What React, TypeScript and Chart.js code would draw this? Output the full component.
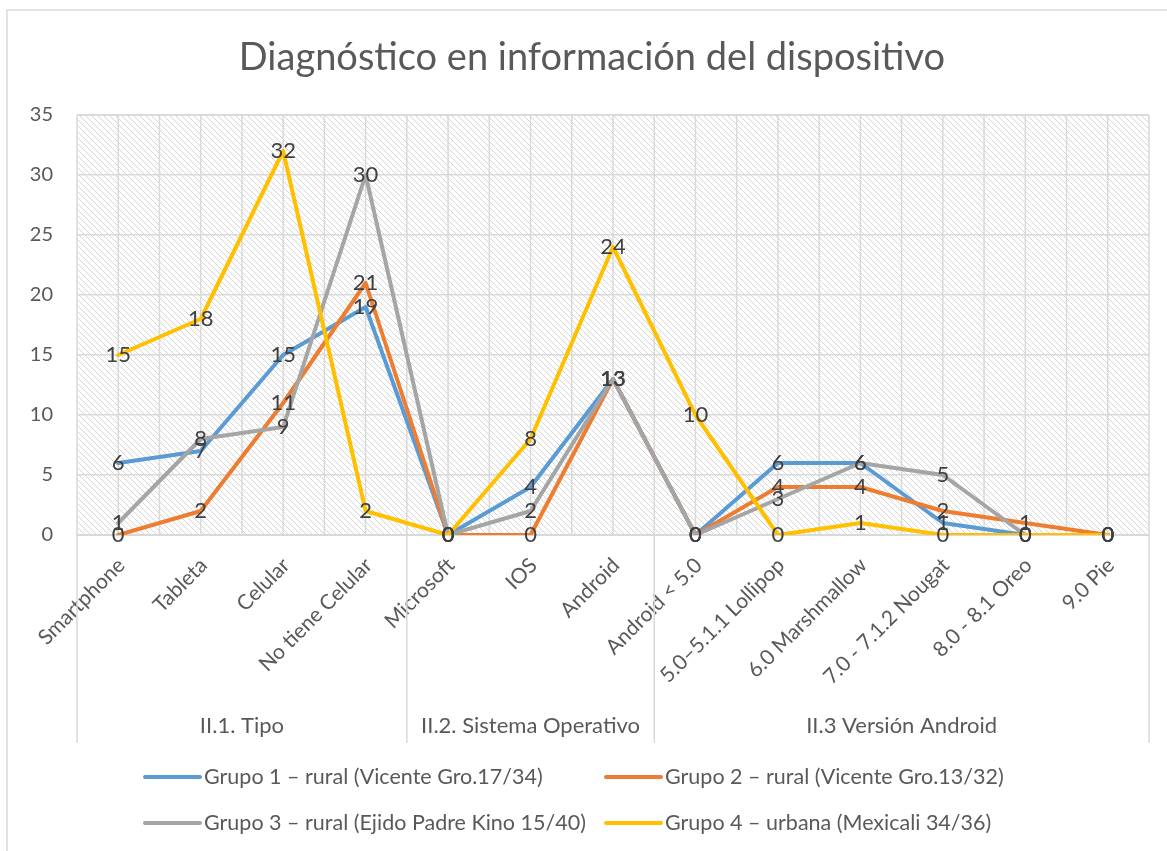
import React, { useEffect, useRef } from "react";
import { Chart, registerables } from "chart.js";

Chart.register(...registerables);

const title = "Diagnóstico en información del dispositivo";

const categories = [
  "Smartphone",
  "Tableta",
  "Celular",
  "No tiene Celular",
  "Microsoft",
  "IOS",
  "Android",
  "Android < 5.0",
  "5.0–5.1.1 Lollipop",
  "6.0 Marshmallow",
  "7.0 - 7.1.2 Nougat",
  "8.0 - 8.1 Oreo",
  "9.0 Pie",
];

const groupLabels = ["II.1. Tipo", "II.2. Sistema Operativo", "II.3 Versión Android"];
const groupSizes = [4, 3, 6];

const seriesNames = [
  "Grupo 1 – rural (Vicente Gro.17/34)",
  "Grupo 2 – rural (Vicente Gro.13/32)",
  "Grupo 3 – rural (Ejido Padre Kino 15/40)",
  "Grupo 4 – urbana (Mexicali 34/36)",
];

const grupo1 = [6, 7, 15, 19, 0, 4, 13, 0, 6, 6, 1, 0, 0];
const grupo2 = [0, 2, 11, 21, 0, 0, 13, 0, 4, 4, 2, 1, 0];
const grupo3 = [1, 8, 9, 30, 0, 2, 13, 0, 3, 6, 5, 0, 0];
const grupo4 = [15, 18, 32, 2, 0, 8, 24, 10, 0, 1, 0, 0, 0];

const seriesColors = ["#5B9BD5", "#ED7D31", "#A5A5A5", "#FFC000"];

const yMin = 0;
const yMax = 35;
const yStep = 5;

const FONT = "Lato";
const TEXT = "#595959";
const GRID = "#d9d9d9";

export default function App() {
  const ref = useRef<HTMLCanvasElement | null>(null);

  useEffect(() => {
    const canvas = ref.current;
    if (!canvas) return;

    const pc = document.createElement("canvas");
    pc.width = 6;
    pc.height = 6;
    const p = pc.getContext("2d")!;
    p.fillStyle = "#ffffff";
    p.fillRect(0, 0, 6, 6);
    p.fillStyle = "#d6d6d6";
    for (let i = 0; i < 6; i++) p.fillRect(i, i, 1, 1);

    const allSeries = [grupo1, grupo2, grupo3, grupo4];

    const decorPlugin = {
      id: "decor",
      beforeDraw(chart: any) {
        const ctx = chart.ctx;
        const a = chart.chartArea;
        ctx.save();
        ctx.strokeStyle = GRID;
        ctx.lineWidth = 1.5;
        ctx.beginPath();
        ctx.moveTo(7, 860);
        ctx.lineTo(7, 10);
        ctx.lineTo(1180, 10);
        ctx.stroke();
        const pat = ctx.createPattern(pc, "repeat");
        ctx.fillStyle = pat;
        ctx.fillRect(a.left, a.top, a.right - a.left, a.bottom - a.top);
        ctx.fillStyle = TEXT;
        ctx.font = `38px ${FONT}`;
        ctx.textAlign = "center";
        ctx.textBaseline = "middle";
        ctx.fillText(title, 592, 58);
        ctx.restore();
      },
      beforeDatasetsDraw(chart: any) {
        const ctx = chart.ctx;
        const a = chart.chartArea;
        const xs = chart.scales.x;
        ctx.save();
        ctx.strokeStyle = GRID;
        ctx.lineWidth = 1.5;
        for (let k = 0; k <= categories.length * 2; k++) {
          const x = xs.getPixelForValue(k / 2 - 0.5);
          ctx.beginPath();
          ctx.moveTo(x, a.top);
          ctx.lineTo(x, a.bottom);
          ctx.stroke();
        }
        ctx.beginPath();
        ctx.moveTo(a.left, a.top);
        ctx.lineTo(a.right, a.top);
        ctx.stroke();
        ctx.restore();
      },
      afterDatasetsDraw(chart: any) {
        const ctx = chart.ctx;
        ctx.save();
        ctx.fillStyle = "#404040";
        ctx.font = `22px ${FONT}`;
        ctx.textAlign = "center";
        ctx.textBaseline = "middle";
        chart.data.datasets.forEach((ds: any, di: number) => {
          const meta = chart.getDatasetMeta(di);
          meta.data.forEach((pt: any, i: number) => {
            ctx.fillText(String(ds.data[i]), pt.x, pt.y);
          });
        });
        ctx.restore();
      },
      afterDraw(chart: any) {
        const ctx = chart.ctx;
        const a = chart.chartArea;
        const xs = chart.scales.x;
        ctx.save();
        ctx.strokeStyle = GRID;
        ctx.lineWidth = 1.5;
        let start = 0;
        const bounds: number[] = [a.left];
        groupSizes.forEach((n) => {
          start += n;
          bounds.push(start === categories.length ? a.right : xs.getPixelForValue(start - 0.5));
        });
        bounds.forEach((x) => {
          ctx.beginPath();
          ctx.moveTo(x, a.bottom);
          ctx.lineTo(x, 743);
          ctx.stroke();
        });
        ctx.fillStyle = TEXT;
        ctx.font = `22px ${FONT}`;
        ctx.textAlign = "center";
        ctx.textBaseline = "middle";
        groupLabels.forEach((g, i) => {
          ctx.fillText(g, (bounds[i] + bounds[i + 1]) / 2, 726);
        });
        const pos = [
          [145, 777],
          [606, 777],
          [145, 823],
          [606, 823],
        ];
        seriesNames.forEach((name, i) => {
          const [x, y] = pos[i];
          ctx.strokeStyle = seriesColors[i];
          ctx.lineWidth = 4;
          ctx.lineCap = "round";
          ctx.beginPath();
          ctx.moveTo(x, y);
          ctx.lineTo(x + 55, y);
          ctx.stroke();
          ctx.fillStyle = TEXT;
          ctx.font = `21.5px ${FONT}`;
          ctx.textAlign = "left";
          ctx.fillText(name, x + 59, y);
        });
        ctx.restore();
      },
    };

    const chart = new Chart(canvas, {
      type: "line",
      data: {
        labels: categories,
        datasets: allSeries.map((d, i) => ({
          label: seriesNames[i],
          data: d,
          borderColor: seriesColors[i],
          backgroundColor: seriesColors[i],
          borderWidth: 4,
          pointRadius: 0,
          tension: 0,
          borderJoinStyle: "round" as const,
          borderCapStyle: "round" as const,
          order: allSeries.length - i,
        })),
      },
      options: {
        responsive: false,
        animation: false,
        layout: { padding: { left: 0, top: 115, right: 18, bottom: 108 } },
        plugins: {
          legend: { display: false },
          title: { display: false },
          tooltip: { enabled: false },
        },
        scales: {
          x: {
            offset: true,
            grid: { display: false, drawTicks: false },
            border: { display: true, color: GRID, width: 2 },
            ticks: {
              autoSkip: false,
              minRotation: 45,
              maxRotation: 45,
              padding: 18,
              labelOffset: 3,
              color: TEXT,
              font: { family: FONT, size: 21 },
            },
            afterFit(scale: any) {
              scale.height = 208;
            },
          },
          y: {
            min: yMin,
            max: yMax,
            ticks: {
              stepSize: yStep,
              padding: 24,
              color: TEXT,
              font: { family: FONT, size: 20 },
            },
            grid: { color: GRID, lineWidth: 1.5, drawTicks: false },
            border: { display: false },
            afterFit(scale: any) {
              scale.width = 77;
            },
          },
        },
      },
      plugins: [decorPlugin],
    });

    return () => chart.destroy();
  }, []);

  return (
    <div style={{ position: "absolute", left: 0, top: 0, width: 1167, height: 851 }}>
      <canvas ref={ref} width={1167} height={851} style={{ display: "block" }} />
    </div>
  );
}
